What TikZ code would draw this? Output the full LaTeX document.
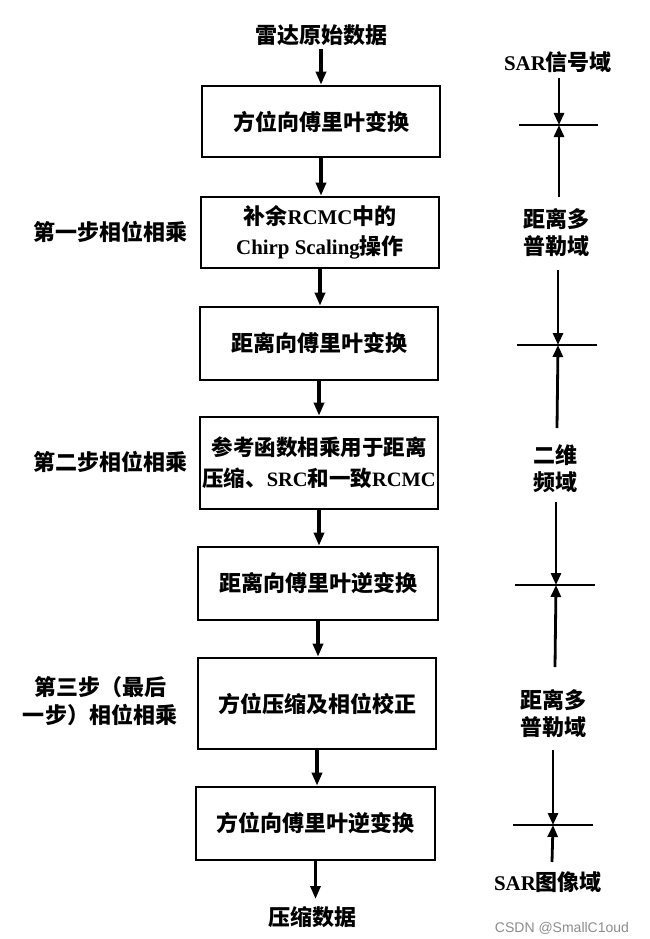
\documentclass[tikz,border=0pt]{standalone}
\usepackage{fontspec}
\setmainfont{Noto Sans CJK SC}
\newfontfamily\latf{Liberation Serif}[Scale=0.95]
\newfontfamily\wmf{Liberation Sans}
\usetikzlibrary{arrows.meta}
\newcommand{\La}[1]{{\latf\bfseries #1}}
\begin{document}
\begin{tikzpicture}[x=1pt,y=-1pt,
 box/.style={draw, line width=2.6pt, minimum width=238pt, inner sep=0pt, align=center, font=\fontsize{22}{30}\selectfont\bfseries},
 lbl/.style={inner sep=0pt, align=center, font=\fontsize{22}{28}\selectfont\bfseries},
 flow/.style={line width=3.2pt, -{Triangle[length=13pt,width=10pt]}},
 dom/.style={line width=2.8pt, -{Triangle[length=12pt,width=10pt]}},
 tickline/.style={line width=2.6pt},
]
\useasboundingbox (0,0) rectangle (649,939);

% main flow
\node[lbl] (t0) at (321,35) {雷达原始数据};
\node[box, minimum height=71pt] (b1) at (321,121.5) {方位向傅里叶变换};
\node[box, minimum height=71pt] (b2) at (320,232.5) {补余\La{RCMC}中的\\\La{Chirp Scaling}操作};
\node[box, minimum height=73pt] (b3) at (319,343.5) {距离向傅里叶变换};
\node[box, minimum height=92pt, text width=238pt, font=\fontsize{21.5}{31}\selectfont\bfseries] (b4) at (319,463) {参考函数相乘用于距离\\压缩、\La{SRC}和一致\La{RCMC}};
\node[box, minimum height=73pt, minimum width=240pt] (b5) at (318,583.5) {距离向傅里叶逆变换};
\node[box, minimum height=91pt] (b6) at (317,703.5) {方位压缩及相位校正};
\node[box, minimum height=73pt, minimum width=239pt] (b7) at (315.5,823.5) {方位向傅里叶逆变换};
\node[lbl] (t1) at (312,917) {压缩数据};

\draw[flow] (t0.south |- 0,49) -- (t0.south |- b1.north);
\draw[flow] (b1.south) -- (b1.south |- b2.north);
\draw[flow] (b2.south) -- (b2.south |- b3.north);
\draw[flow] (b3.south) -- (b3.south |- b4.north);
\draw[flow] (b4.south) -- (b4.south |- b5.north);
\draw[flow] (b5.south) -- (b5.south |- b6.north);
\draw[flow] (b6.south) -- (b6.south |- b7.north);
\draw[flow] (b7.south) -- (b7.south |- 0,899);

% left labels
\node[lbl] (s1) at (110,232) {第一步相位相乘};
\node[lbl] (s2) at (110,462) {第二步相位相乘};
\node[lbl] (s3) at (100,701) {第三步（最后\\一步）相位相乘};

% right column
\node[lbl] (d1) at (558,62) {\La{SAR}信号域};
\node[lbl, font=\fontsize{22}{27}\selectfont\bfseries] (d2) at (556,233) {距离多\\普勒域};
\node[lbl, font=\fontsize{22}{27}\selectfont\bfseries] (d3) at (555,468.5) {二维\\频域};
\node[lbl, font=\fontsize{22}{27}\selectfont\bfseries] (d4) at (553,713.5) {距离多\\普勒域};
\node[lbl] (d5) at (548,882) {\La{SAR}图像域};

\coordinate (k1) at (559,125); \coordinate (k1l) at (519,125); \coordinate (k1r) at (598,125);
\coordinate (k2) at (558,345); \coordinate (k2l) at (517,345); \coordinate (k2r) at (597,345);
\coordinate (k3) at (556,585); \coordinate (k3l) at (515,585); \coordinate (k3r) at (595,585);
\coordinate (k4) at (553,825); \coordinate (k4l) at (513,825); \coordinate (k4r) at (593,825);
\coordinate (a1) at (559,78);  \coordinate (a2) at (559,197);
\coordinate (a3) at (558,270); \coordinate (a4) at (557,428);
\coordinate (a5) at (556,502); \coordinate (a6) at (555,667);
\coordinate (a7) at (553,750); \coordinate (a8) at (552,862);

\draw[tickline] (k1l) -- (k1r);
\draw[tickline] (k2l) -- (k2r);
\draw[tickline] (k3l) -- (k3r);
\draw[tickline] (k4l) -- (k4r);
\draw[dom] (a1) -- (k1);
\draw[dom] (a2) -- (k1);
\draw[dom] (a3) -- (k2);
\draw[dom] (a4) -- (k2);
\draw[dom] (a5) -- (k3);
\draw[dom] (a6) -- (k3);
\draw[dom] (a7) -- (k4);
\draw[dom] (a8) -- (k4);

% watermark
\node[inner sep=0pt, text=black!45, font=\wmf\fontsize{14}{16}\selectfont] (wm) at (562,928) {CSDN @SmallC1oud};
\end{tikzpicture}
\end{document}
